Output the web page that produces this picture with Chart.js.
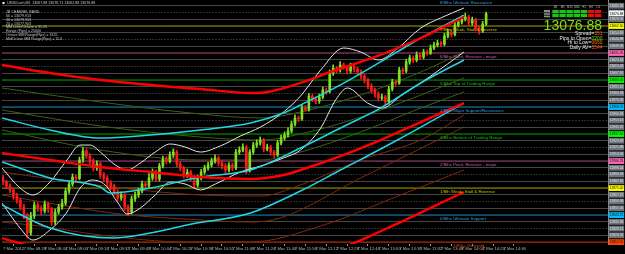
<!DOCTYPE html>
<html>
<head>
<meta charset="utf-8">
<script src="https://cdn.jsdelivr.net/npm/chart.js@4.4.1/dist/chart.umd.min.js"></script>
<style>
html,body{margin:0;padding:0;background:#000;overflow:hidden;}
canvas{display:block;}
</style>
</head>
<body>
<canvas id="chart" width="625" height="254"></canvas>
<script>
// ---------------- data ----------------
const timeLabels = ["7 Mar 2012","7 Mar 08:28","7 Mar 08:44","7 Mar 09:00","7 Mar 09:16","7 Mar 09:32","7 Mar 09:48",
  "7 Mar 10:04","7 Mar 10:20","7 Mar 10:36","7 Mar 10:52","7 Mar 11:08","7 Mar 11:24","7 Mar 11:40","7 Mar 11:56",
  "7 Mar 12:12","7 Mar 12:28","7 Mar 12:44","7 Mar 13:00","7 Mar 13:16","7 Mar 13:32","7 Mar 13:48","7 Mar 14:04",
  "7 Mar 14:20","7 Mar 14:36"];

const opens = [
12887.0,12882.0,12877.4,12872.8,12865.8,12861.2,12853.1,12843.8,12823.0,12842.7,
12855.4,12851.9,12848.5,12856.6,12850.8,12835.7,12847.3,12853.1,12857.7,12871.6,
12879.7,12887.8,12886.2,12907.5,12917.9,12912.1,12906.3,12898.2,12902.9,12890.1,
12886.7,12880.9,12877.4,12870.5,12863.5,12867.0,12853.1,12847.3,12862.4,12867.0,
12871.6,12879.7,12877.9,12886.7,12893.6,12885.5,12900.5,12908.6,12906.3,12913.3,
12916.7,12902.9,12898.2,12890.1,12893.6,12886.7,12878.6,12886.7,12893.6,12898.2,
12901.7,12906.3,12909.8,12904.0,12900.5,12895.9,12901.7,12898.2,12916.7,12919.0,
12922.5,12895.9,12916.7,12924.8,12927.1,12930.6,12920.2,12922.5,12916.7,12913.3,
12927.1,12932.9,12936.4,12941.0,12949.1,12956.1,12955.0,12967.6,12966.0,12981.5,
12978.1,12975.7,12980.4,12988.5,12986.9,13008.1,13013.9,13011.6,13017.4,13015.1,
13010.5,13016.2,13012.8,13009.3,13004.7,13000.0,12993.1,12988.5,12983.8,12979.2,
12980.4,12974.6,12989.6,12997.7,12996.5,13011.6,13010.2,13020.9,13025.5,13023.2,
13029.0,13026.7,13032.4,13031.0,13037.1,13040.5,13042.8,13041.5,13050.9,13055.6,
13052.8,13063.7,13067.1,13070.6,13072.9,13066.0,13069.5,13060.2,13056.7,13064.8];
const highs = [
12889.5,12884.1,12880.0,12875.2,12868.9,12863.0,12856.2,12845.6,12846.9,12859.0,
12858.3,12854.6,12860.2,12858.9,12852.5,12850.8,12856.4,12861.9,12874.8,12883.1,
12891.5,12890.3,12910.9,12921.8,12920.5,12915.0,12909.1,12906.4,12905.2,12893.0,
12889.4,12883.6,12879.8,12873.2,12870.6,12868.8,12855.7,12865.9,12870.3,12874.9,
12883.0,12882.0,12891.8,12897.2,12895.9,12903.7,12912.0,12911.4,12916.8,12920.4,
12918.6,12905.3,12900.1,12896.9,12895.8,12889.2,12890.0,12896.8,12901.5,12904.9,
12909.6,12913.5,12912.2,12906.7,12903.4,12904.6,12904.0,12919.9,12922.8,12926.3,
12924.1,12919.5,12928.0,12930.9,12934.2,12932.5,12925.8,12924.6,12919.1,12930.4,
12936.2,12940.0,12944.7,12952.3,12959.7,12958.5,12971.2,12970.4,12984.6,12984.0,
12980.5,12983.9,12991.7,12990.8,13011.5,13017.6,13016.0,13021.3,13019.8,13017.0,
13019.5,13018.4,13015.1,13011.9,13007.0,13002.4,12995.9,12990.7,12986.5,12983.8,
12982.3,12992.8,13001.0,12999.8,13014.7,13014.0,13024.2,13028.8,13027.9,13032.5,
13031.6,13035.7,13034.9,13040.6,13044.0,13046.1,13045.2,13054.2,13059.0,13058.4,
13067.3,13070.5,13074.2,13077.4,13075.1,13072.8,13071.6,13062.5,13068.0,13078.7];
const lows = [
12879.0,12874.2,12869.5,12862.0,12857.6,12849.4,12839.5,12817.2,12820.3,12839.8,
12848.0,12844.1,12846.0,12846.7,12831.9,12833.0,12844.9,12850.2,12855.1,12868.9,
12877.0,12882.9,12884.6,12904.7,12909.2,12902.8,12894.6,12895.3,12886.3,12883.2,
12877.5,12873.1,12866.9,12860.1,12860.8,12849.2,12843.0,12845.1,12859.6,12864.2,
12869.3,12874.8,12875.5,12884.0,12882.1,12883.0,12898.3,12903.1,12904.0,12910.5,
12899.7,12894.8,12886.4,12887.3,12883.1,12874.3,12876.1,12884.4,12891.0,12895.7,
12899.4,12903.9,12900.6,12897.3,12892.0,12893.5,12895.1,12896.4,12914.2,12916.7,
12891.8,12893.4,12914.3,12922.0,12924.6,12917.0,12917.9,12913.0,12910.2,12911.5,
12924.8,12930.3,12933.9,12938.8,12946.5,12952.0,12953.2,12963.8,12964.0,12975.2,
12972.4,12973.0,12978.1,12983.5,12985.0,13005.4,13008.2,13009.0,13012.4,13007.1,
13008.0,13009.5,13006.2,13001.3,12996.5,12989.8,12985.0,12980.1,12975.6,12976.9,
12970.5,12972.0,12987.3,12993.9,12995.0,13007.1,13008.6,13018.3,13020.1,13021.0,
13023.8,13024.5,13028.8,13029.5,13035.0,13038.3,13038.6,13039.8,13048.6,13049.9,
13051.0,13061.2,13064.8,13068.3,13062.7,13063.4,13056.8,13053.1,13054.9,13062.9];
const closes = [
12882.0,12877.4,12872.8,12865.8,12861.2,12853.1,12843.8,12823.0,12842.7,12855.4,
12851.9,12848.5,12856.6,12850.8,12835.7,12847.3,12853.1,12857.7,12871.6,12879.7,
12887.8,12886.2,12907.5,12917.9,12912.1,12906.3,12898.2,12902.9,12890.1,12886.7,
12880.9,12877.4,12870.5,12863.5,12867.0,12853.1,12847.3,12862.4,12867.0,12871.6,
12879.7,12877.9,12886.7,12893.6,12885.5,12900.5,12908.6,12906.3,12913.3,12916.7,
12902.9,12898.2,12890.1,12893.6,12886.7,12878.6,12886.7,12893.6,12898.2,12901.7,
12906.3,12909.8,12904.0,12900.5,12895.9,12901.7,12898.2,12916.7,12919.0,12922.5,
12895.9,12916.7,12924.8,12927.1,12930.6,12920.2,12922.5,12916.7,12913.3,12927.1,
12932.9,12936.4,12941.0,12949.1,12956.1,12955.0,12967.6,12966.0,12981.5,12978.1,
12975.7,12980.4,12988.5,12986.9,13008.1,13013.9,13011.6,13017.4,13015.1,13010.5,
13016.2,13012.8,13009.3,13004.7,13000.0,12993.1,12988.5,12983.8,12979.2,12980.4,
12974.6,12989.6,12997.7,12996.5,13011.6,13010.2,13020.9,13025.5,13023.2,13029.0,
13026.7,13032.4,13031.0,13037.1,13040.5,13042.8,13041.5,13050.9,13055.6,13052.8,
13063.7,13067.1,13070.6,13072.9,13066.0,13069.5,13060.2,13056.7,13064.8,13076.88];

// Murrey math levels
const levelPrices = [13093.75,13062.50,13031.25,13000.00,12968.75,12937.50,12906.25,12875.00,12843.75,12812.50];
const levelNames = ["8/8ths Ultimate Resistance","7/8ths Weak, Stall & Reverse","6/8ths Pivot, Reverse - major",
  "5/8ths Top of Trading Range","4/8ths Major Support/Resistance","3/8ths Bottom of Trading Range",
  "2/8ths Pivot, Reverse - major","1/8th Weak, Stall & Reverse","0/8ths Ultimate Support","-1/8ths Oversold"];
const levelLineColors = ['#1b8fc4','#a8a800','#a84c84','#00aa00','#1b8fc4','#00aa00','#a84c84','#a8a800','#1b8fc4','#d83a00'];
const levelTextColors = ['#2b9ee0','#c8c800','#c060a0','#10c010','#2b9ee0','#10c010','#c060a0','#c8c800','#2b9ee0','#e04a10'];
const levelBoxColors  = ['#00bfff','#ffff00','#ff69b4','#00ff00','#00bfff','#00ff00','#ff69b4','#ffff00','#00bfff','#ff4500'];
const halfLevels = [13078.13,13046.88,13015.63,12984.38,12953.13,12921.88,12890.63,12859.38,12828.13];
const axisPrices = [12812.50,12820.31,12828.13,12835.94,12843.75,12851.56,12859.38,12867.19,12875.00,12882.81,
  12890.63,12898.44,12906.25,12914.06,12921.88,12929.69,12937.50,12945.31,12953.13,12960.94,12968.75,12976.56,
  12984.38,12992.19,13000.00,13007.81,13015.63,13023.44,13031.25,13039.06,13046.88,13054.69,13062.50,13070.31,
  13078.13,13085.94];
const currentPrice = 13076.88;

// indicator lines [bar index, price]
const redSlow = [[-0.3,13017.4],[13.5,13008.1],[28,13000.0],[42.4,12994.2],[56.8,12989.6],[71.2,12985.0],[76.1,12986.1],[85.6,12996.6],[94.2,13009.3],[108.6,13029.0],[120.2,13048.6],[132.6,13072.9]];
const redMid = [[-0.3,12915.6],[13.5,12907.5],[28,12899.4],[42.4,12893.6],[56.8,12887.8],[71.2,12885.5],[80.7,12890.1],[85.6,12895.9],[97.1,12912.1],[108.6,12930.6],[120.2,12951.4],[132.6,12973.4]];
const redLow = [[-0.3,12817.2],[9.8,12805.7],[28,12794.1],[56.8,12786.0],[79.8,12789.5],[94.2,12801.0],[110.7,12828.8],[132.6,12870.5]];
const cyanTop = [[-0.3,12956.1],[13.5,12942.2],[28,12932.9],[42.4,12936.4],[56.8,12942.2],[71.2,12950.3],[80.7,12961.9],[85.6,12971.1],[97.1,12994.3],[108.6,13020.9],[118.2,13044.0],[132.6,13075.2]];
const cyanMid = [[-0.3,12905.2],[13.5,12886.7],[28,12876.2],[30.8,12869.3],[42.4,12875.1],[56.8,12887.8],[71.2,12895.9],[85.6,12921.4],[97.1,12944.5],[108.6,12967.6],[120.2,12996.6],[132.6,13023.2]];
const cyanLow = [[-0.3,12855.4],[13.5,12828.8],[31.7,12817.2],[42.4,12823.0],[53.0,12832.3],[71.2,12846.2],[85.6,12871.6],[97.1,12895.9],[113.5,12930.6],[132.6,12973.4]];
const bandUpper = [[-0.3,12898.2],[4.9,12875.1],[8.6,12867.0],[13.5,12882.0],[18.4,12907.5],[22.2,12924.8],[25.1,12924.8],[28,12916.7],[32.3,12901.7],[35.7,12895.9],[39.5,12904.0],[43.8,12916.7],[48.1,12926.0],[52.4,12922.5],[56.8,12916.7],[62.5,12923.7],[68.3,12935.2],[74.1,12945.7],[80.7,12963.0],[85.6,12981.5],[91.4,13011.6],[98.0,13037.1],[102.9,13032.4],[108.1,13023.2],[113.0,13034.7],[120.2,13060.2],[125.9,13071.8],[132.6,13083.3]];
const bandLower = [[-0.3,12857.7],[4.9,12828.8],[8.6,12814.9],[13.5,12826.5],[18.4,12847.3],[22.2,12875.1],[25.6,12884.3],[29.4,12878.6],[33.1,12857.7],[35.7,12845.0],[39.5,12851.9],[43.8,12867.0],[48.1,12882.0],[52.4,12879.7],[56.8,12872.8],[61.1,12879.7],[68.3,12893.6],[74.1,12900.5],[80.7,12909.8],[85.6,12919.0],[91.4,12944.5],[95.7,12976.9],[99.1,12990.8],[104.9,12973.4],[109.2,12967.6],[114.4,12981.5],[123.1,13004.7],[132.6,13032.4]];
const brown1 = [[-0.3,12893.6],[16.4,12884.3],[33.7,12875.1],[56.8,12867.0],[74.1,12865.8],[85.6,12878.6],[102.9,12907.5],[120.2,12930.6],[132.6,12959.5]];
const brown2 = [[-0.3,12867.0],[16.4,12855.4],[33.7,12845.0],[56.8,12838.1],[71.2,12835.7],[79.8,12840.4],[102.9,12886.7],[125.1,12930.6],[132.6,12945.7]];
const brown3 = [[-0.3,12835.7],[10.7,12831.1],[28,12820.7],[53.0,12812.6],[71.2,12812.6],[91.4,12831.1],[114.4,12867.0],[132.6,12895.9]];
const olive1 = [[-0.3,12990.8],[28,12974.6],[56.8,12960.7],[74.1,12956.1],[85.6,12963.0],[102.9,12982.7],[120.2,13009.3],[132.6,13032.4]];
const olive2 = [[-0.3,12965.3],[28,12946.8],[56.8,12934.1],[74.1,12930.6],[85.6,12937.6],[102.9,12957.2],[120.2,12982.7],[132.6,13002.4]];
const olive3 = [[-0.3,12942.2],[28,12919.0],[56.8,12907.5],[74.1,12907.5],[85.6,12916.7],[102.9,12939.9],[120.2,12967.6],[132.6,12986.2]];

const infoLines = ["JB CHANNEL BAND","60 = 13079.913","40 = 13078.903","20 = 13077.903",
  "MM Level Octave = 31.25","Range (Pips) = 25000","Octave MM Range(Pips) = 3125","MidOctave MM Range(Pips) = 15.6"];
const titleText = "US30Cash,M1  13067.88 13078.71 13062.88 13076.88";
const timeframes = ["M1","M5","M15","M30","H1","H4","D1"];
const trendSignals = [1,1,1,1,1,-1,-1];
const statNames = ["Spread=","Pips to Open=","Hi to Low=","Daily AV="];
const statValues = ["351","0200","0650","5544"];
const statColors = ['#ff5a10','#66dd00','#ff7a10','#ff5a10'];

// ---------------- chart ----------------
const BULL = '#80e020', BEAR = '#ff1a1a';
const candleCol = closes.map((c,i)=> c >= opens[i] ? BULL : BEAR);
const Y_MIN = 12810.3, Y_MAX = 13092.6;

const lineDs = (pts, color, width, order) => ({
  type:'line', data: pts.map(([x,y])=>({x,y})), borderColor:color, borderWidth:width,
  pointRadius:0, tension:0.4, cubicInterpolationMode:'monotone', order
});

const datasets = [];
[[redSlow,'#ff0000',2.4],[redMid,'#ff0000',2.4],[redLow,'#ff0000',2.4],
 [cyanTop,'#22d6e8',1.5],[cyanMid,'#22d6e8',1.5],[cyanLow,'#22d6e8',1.5],
 [bandUpper,'#e6e6e6',1],[bandLower,'#e6e6e6',1]].forEach(([p,c,w])=>datasets.push(lineDs(p,c,w,2)));
[[brown1,'#7e2a0c'],[brown2,'#7e2a0c'],[brown3,'#7e2a0c'],
 [olive1,'#3d6012'],[olive2,'#3d6012'],[olive3,'#3d6012']].forEach(([p,c])=>datasets.push(lineDs(p,c,1,6)));
datasets.push({type:'bar', data: closes.map((c,i)=>({x:i, y:[opens[i], c]})), backgroundColor:candleCol,
  barThickness:2, minBarLength:1, grouped:false, order:4, borderWidth:0});
datasets.push({type:'bar', data: closes.map((c,i)=>({x:i, y:[lows[i], highs[i]]})), backgroundColor:candleCol,
  barThickness:1, grouped:false, order:5, borderWidth:0});
levelPrices.forEach((p,i)=>datasets.push({type:'line', data:[{x:-1,y:p},{x:176,y:p}], borderColor:levelLineColors[i],
  borderWidth:1, pointRadius:0, order:10}));
halfLevels.forEach(p=>datasets.push({type:'line', data:[{x:-1,y:p},{x:176,y:p}], borderColor:'#5e5e5e',
  borderWidth:1, borderDash:[1,2], pointRadius:0, order:11}));

function tickKind(v){
  if (Math.abs(v-currentPrice) < 0.01) return 'cur';
  const li = levelPrices.findIndex(p=>Math.abs(p-v)<0.02);
  if (li >= 0) return 'L'+li;
  if (halfLevels.some(p=>Math.abs(p-v)<0.02)) return 'half';
  return 'q';
}

const textPlugin = {
  id:'mt4text',
  afterDraw(chart){
    const ctx = chart.ctx, ys = chart.scales.y;
    ctx.save();
    ctx.textAlign = 'left'; ctx.textBaseline = 'top';
    ctx.font = '4.4px "Liberation Sans", Arial';
    levelPrices.forEach((p,i)=>{
      const py = ys.getPixelForValue(p);
      ctx.fillStyle = levelTextColors[i];
      ctx.fillText(levelNames[i], i === levelPrices.length-1 ? 452 : 440, Math.max(py,-1) + 1.3);
    });
    ctx.fillStyle = '#ffffff'; ctx.fillRect(2.5,2,2,2);
    ctx.fillStyle = '#c8c8c8'; ctx.font = '3.6px "Liberation Sans", Arial'; ctx.textBaseline = 'middle';
    ctx.fillText(titleText, 7, 3.2);
    infoLines.forEach((t,i)=>{ ctx.fillText(t, 6, 12.3 + i*3.75); });
    ctx.textAlign = 'center'; ctx.font = '2.8px "Liberation Sans", Arial'; ctx.fillStyle = '#bdbdbd';
    timeframes.forEach((t,i)=> ctx.fillText(t, 555.6 + i*7.1, 7.2));
    ctx.fillStyle = '#8d8d8d'; ctx.fillRect(544,10,6,7.3);
    ctx.fillStyle = '#000'; ctx.fillRect(544,12.4,6,0.8); ctx.fillRect(544,14.8,6,0.8);
    trendSignals.forEach((s,i)=>{
      ctx.fillStyle = s > 0 ? '#18c418' : '#e01010';
      ctx.fillRect(552.3 + i*7.1, 10, 6.4, 3.2);
      ctx.fillRect(552.3 + i*7.1, 13.9, 6.4, 3.3);
    });
    ctx.textAlign = 'right'; ctx.textBaseline = 'alphabetic';
    ctx.font = '14px "Liberation Sans", Arial'; ctx.fillStyle = '#84dc14';
    ctx.fillText(currentPrice.toFixed(2), 602, 29.6);
    ctx.font = '5px "Liberation Sans", Arial'; ctx.textBaseline = 'middle';
    statNames.forEach((n,i)=>{
      const y = 33.4 + i*4.8;
      ctx.fillStyle = statColors[i]; ctx.textAlign = 'right';
      ctx.fillText(statValues[i], 602.5, y);
      const w = ctx.measureText(statValues[i]).width;
      ctx.fillStyle = '#e8e8e8';
      ctx.fillText(n, 602.5 - w, y);
    });
    ctx.restore();
  }
};

new Chart(document.getElementById('chart'), {
  type:'bar',
  data:{ datasets },
  options:{
    responsive:false, animation:false, devicePixelRatio:1,
    layout:{ padding:{ left:2, top:0, right:0, bottom:0 } },
    plugins:{ legend:{display:false}, tooltip:{enabled:false} },
    scales:{
      x:{ type:'linear', position:'bottom', min:-0.29, max:174.06, offset:false,
        grid:{ drawOnChartArea:false, drawTicks:true, tickLength:2, tickColor:'#9a9a9a' },
        border:{ display:false },
        ticks:{ autoSkip:false, minRotation:0, maxRotation:0, align:'start', padding:0.5,
          color:'#b4b4b4', font:{ size:4.2, family:'"Liberation Sans", Arial' },
          callback:(v)=> timeLabels[Math.round(v/6)] },
        afterBuildTicks:(s)=>{ s.ticks = timeLabels.map((t,i)=>({value:i*6})); },
        afterFit:(s)=>{ s.height = 10; s.paddingLeft = 0; s.paddingRight = 0; }
      },
      y:{ type:'linear', position:'right', min:Y_MIN, max:Y_MAX,
        grid:{ drawTicks:false, lineWidth:1,
          color:(c)=> (c.tick && tickKind(c.tick.value) === 'q') ? '#464646' : 'rgba(0,0,0,0)' },
        border:{ display:true, color:'#8a8a8a', width:1 },
        ticks:{ autoSkip:false, padding:1.6, font:{ size:3.3, family:'"Liberation Sans", Arial' },
          showLabelBackdrop:true, backdropPadding:{top:0.9,bottom:0.9,left:0.8,right:0.8},
          backdropColor:(c)=>{ const k = tickKind(c.tick.value);
            if (k === 'cur') return '#f2f2f2';
            if (k[0] === 'L') return levelBoxColors[+k.slice(1)];
            return '#6c737b'; },
          color:(c)=>{ const k = tickKind(c.tick.value); return (k === 'cur' || k[0] === 'L') ? '#000' : '#dfe4e8'; },
          callback:(v)=> Number(v).toFixed(2) },
        afterBuildTicks:(s)=>{ s.ticks = axisPrices.concat([currentPrice]).filter(v=>v>=Y_MIN && v<=Y_MAX)
          .sort((a,b)=>b-a).map(v=>({value:v})); },
        afterFit:(s)=>{ s.width = 17; s.paddingTop = 0; s.paddingBottom = 0; }
      }
    }
  },
  plugins:[textPlugin]
});
</script>
</body>
</html>
